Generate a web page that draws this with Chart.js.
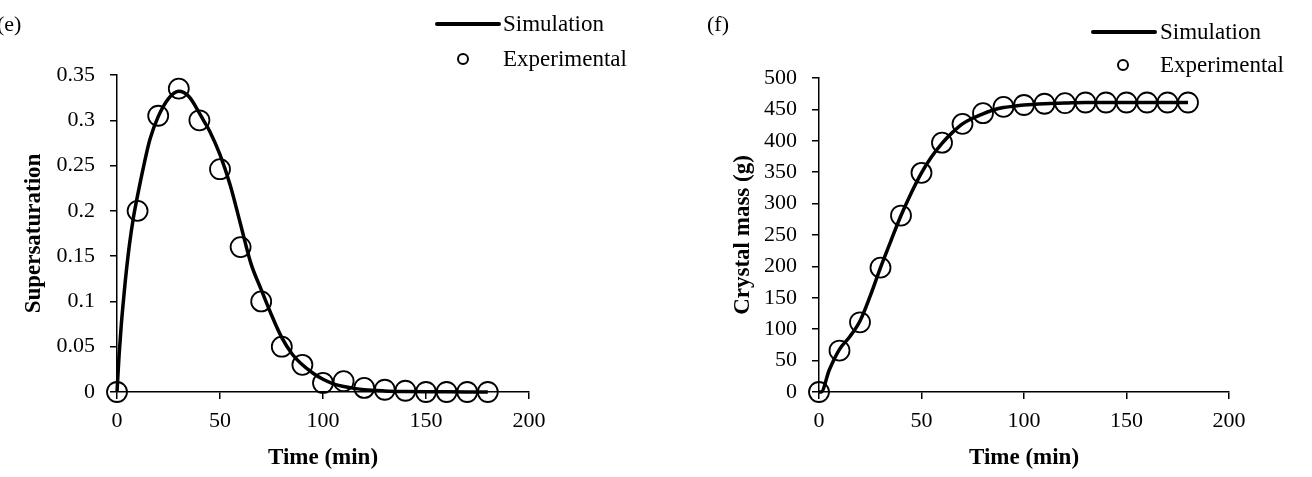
<!DOCTYPE html>
<html>
<head>
<meta charset="utf-8">
<script src="https://cdn.jsdelivr.net/npm/chart.js@4.4.1/dist/chart.umd.min.js"></script>
<style>
  html, body { margin:0; padding:0; background:#fff; }
  #wrap { position:relative; width:1312px; height:477px; overflow:hidden; }
  canvas { position:absolute; top:0; }
</style>
</head>
<body>
<div id="wrap">
  <canvas id="c1" width="656" height="477" style="left:0px"></canvas>
  <canvas id="c2" width="656" height="477" style="left:656px"></canvas>
</div>
<script>
// ---------- DATA ----------
const timeTicks = [0, 50, 100, 150, 200];
const supersatTicks = [0, 0.05, 0.1, 0.15, 0.2, 0.25, 0.3, 0.35];
const massTicks = [0, 50, 100, 150, 200, 250, 300, 350, 400, 450, 500];

// Experimental (circles)
const expTime = [0, 10, 20, 30, 40, 50, 60, 70, 80, 90, 100, 110, 120, 130, 140, 150, 160, 170, 180];
const expSupersat = [0, 0.2, 0.305, 0.335, 0.3, 0.246, 0.16, 0.1, 0.05, 0.03, 0.01, 0.012, 0.0045, 0.0025, 0.0014, 0, 0, 0, 0];
const expMass = [0, 66, 111, 198, 281, 349, 397, 427, 444, 454, 457, 459, 460, 461, 461, 461, 461, 461, 461];

// Simulation (lines)
const simTimeE = [0, 1, 2, 3, 4, 6, 8, 10, 13, 16, 20, 25, 30, 35, 40, 42, 45, 50, 55, 60, 65, 70, 75, 80, 85, 90, 95, 100, 105, 110, 115, 120, 130, 140, 150, 160, 170, 180];
const simSupersat = [0, 0.04, 0.072, 0.098, 0.122, 0.162, 0.193, 0.217, 0.25, 0.279, 0.304, 0.324, 0.332, 0.326, 0.308, 0.3, 0.288, 0.262, 0.228, 0.185, 0.142, 0.113, 0.085, 0.06, 0.042, 0.03, 0.021, 0.014, 0.009, 0.006, 0.004, 0.0025, 0.0012, 0.0006, 0.0003, 0.0002, 0.0001, 0];
const simTimeF = [0, 1, 5, 10, 15, 20, 25, 30, 35, 40, 45, 50, 55, 60, 65, 70, 75, 80, 85, 90, 95, 100, 110, 120, 130, 140, 150, 160, 170, 180];
const simMass = [0, 0, 35, 68, 88, 113, 153, 198, 240, 281, 317, 349, 375, 396, 413, 427, 436, 443, 449, 453, 455, 457, 459, 460, 461, 461, 461, 461, 461, 461];

const seriesNames = ['Simulation', 'Experimental'];
const panelNames = ['(e)', '(f)'];
const axisTitles = { x: 'Time (min)', yE: 'Supersaturation', yF: 'Crystal mass (g)' };

// ---------- STYLE ----------
const SERIF = "'Liberation Serif', 'Times New Roman', serif";
const pts = (xs, ys) => xs.map((x, i) => ({ x: x, y: ys[i] }));

const panelLegend = {
  id: 'panelLegend',
  afterDraw(chart, args, o) {
    const ctx = chart.ctx;
    ctx.save();
    ctx.fillStyle = '#000';
    ctx.strokeStyle = '#000';
    ctx.textBaseline = 'middle';
    ctx.textAlign = 'left';
    ctx.font = "22px " + SERIF;
    ctx.fillText(o.panel, o.panelX, o.panelY);
    const ds = chart.data.datasets;
    ctx.font = "23px " + SERIF;
    ctx.lineWidth = 4;
    ctx.lineCap = 'round';
    ctx.beginPath();
    ctx.moveTo(o.lineX0, o.row1Y);
    ctx.lineTo(o.lineX1, o.row1Y);
    ctx.stroke();
    ctx.fillText(ds[0].label, o.textX, o.row1Y + 1);
    ctx.lineWidth = 2;
    ctx.beginPath();
    ctx.arc(o.circleX, o.row2Y, 5, 0, Math.PI * 2);
    ctx.stroke();
    ctx.fillText(ds[1].label, o.textX, o.row2Y + 1);
    ctx.restore();
  }
};

function makeScales(yTicks, yMax, yTitle, yWidth) {
  const gridCfg = { drawOnChartArea: false, drawTicks: true, tickLength: 7, color: '#000', lineWidth: 1.5 };
  return {
    x: {
      type: 'linear', min: 0, max: 200,
      afterBuildTicks: s => { s.ticks = timeTicks.map(v => ({ value: v })); },
      afterFit: s => { s.height = 85; },
      border: { color: '#000', width: 1.5 },
      grid: gridCfg,
      ticks: { color: '#000', font: { family: SERIF, size: 22 }, padding: 9, maxRotation: 0, autoSkip: false, callback: v => String(v) },
      title: { display: true, text: axisTitles.x, color: '#000', font: { family: SERIF, size: 23, weight: 'bold' }, padding: { top: 0, bottom: 5 } }
    },
    y: {
      type: 'linear', min: 0, max: yMax,
      afterBuildTicks: s => { s.ticks = yTicks.map(v => ({ value: v })); },
      afterFit: s => { s.width = yWidth; },
      border: { color: '#000', width: 1.5 },
      grid: gridCfg,
      ticks: { color: '#000', font: { family: SERIF, size: 22 }, padding: 15, autoSkip: false, callback: v => String(v) },
      title: { display: true, text: yTitle, color: '#000', font: { family: SERIF, size: 23, weight: 'bold' }, padding: { top: 20, bottom: 0 } }
    }
  };
}

function makeDatasets(simX, simY, expX, expY) {
  return [
    {
      label: seriesNames[0], data: pts(simX, simY),
      borderColor: '#000', borderWidth: 3.5, pointRadius: 0, fill: false,
      cubicInterpolationMode: 'monotone', showLine: true, clip: false, order: 2
    },
    {
      label: seriesNames[1], data: pts(expX, expY),
      showLine: false, pointRadius: 10, pointHoverRadius: 10, pointBorderWidth: 1.8,
      pointBorderColor: '#000', pointBackgroundColor: 'rgba(0,0,0,0)', borderColor: '#000',
      clip: false, order: 1
    }
  ];
}

function makeChart(id, datasets, scales, padding, legendOpts) {
  return new Chart(document.getElementById(id), {
    type: 'line',
    data: { datasets: datasets },
    options: {
      responsive: false, animation: false, devicePixelRatio: 1,
      layout: { padding: padding },
      scales: scales,
      plugins: { legend: { display: false }, tooltip: { enabled: false }, panelLegend: legendOpts }
    },
    plugins: [panelLegend]
  });
}

makeChart('c1',
  makeDatasets(simTimeE, simSupersat, expTime, expSupersat),
  makeScales(supersatTicks, 0.35, axisTitles.yE, 117),
  { left: 0, right: 127, top: 75, bottom: 0 },
  { panel: panelNames[0], panelX: -3, panelY: 25, lineX0: 437, lineX1: 499, textX: 503, circleX: 463, row1Y: 24, row2Y: 59 }
);

makeChart('c2',
  makeDatasets(simTimeF, simMass, expTime, expMass),
  makeScales(massTicks, 500, axisTitles.yF, 110),
  { left: 53, right: 83, top: 78, bottom: 0 },
  { panel: panelNames[1], panelX: 51, panelY: 25, lineX0: 437, lineX1: 499, textX: 504, circleX: 467, row1Y: 32, row2Y: 65 }
);
</script>
</body>
</html>
